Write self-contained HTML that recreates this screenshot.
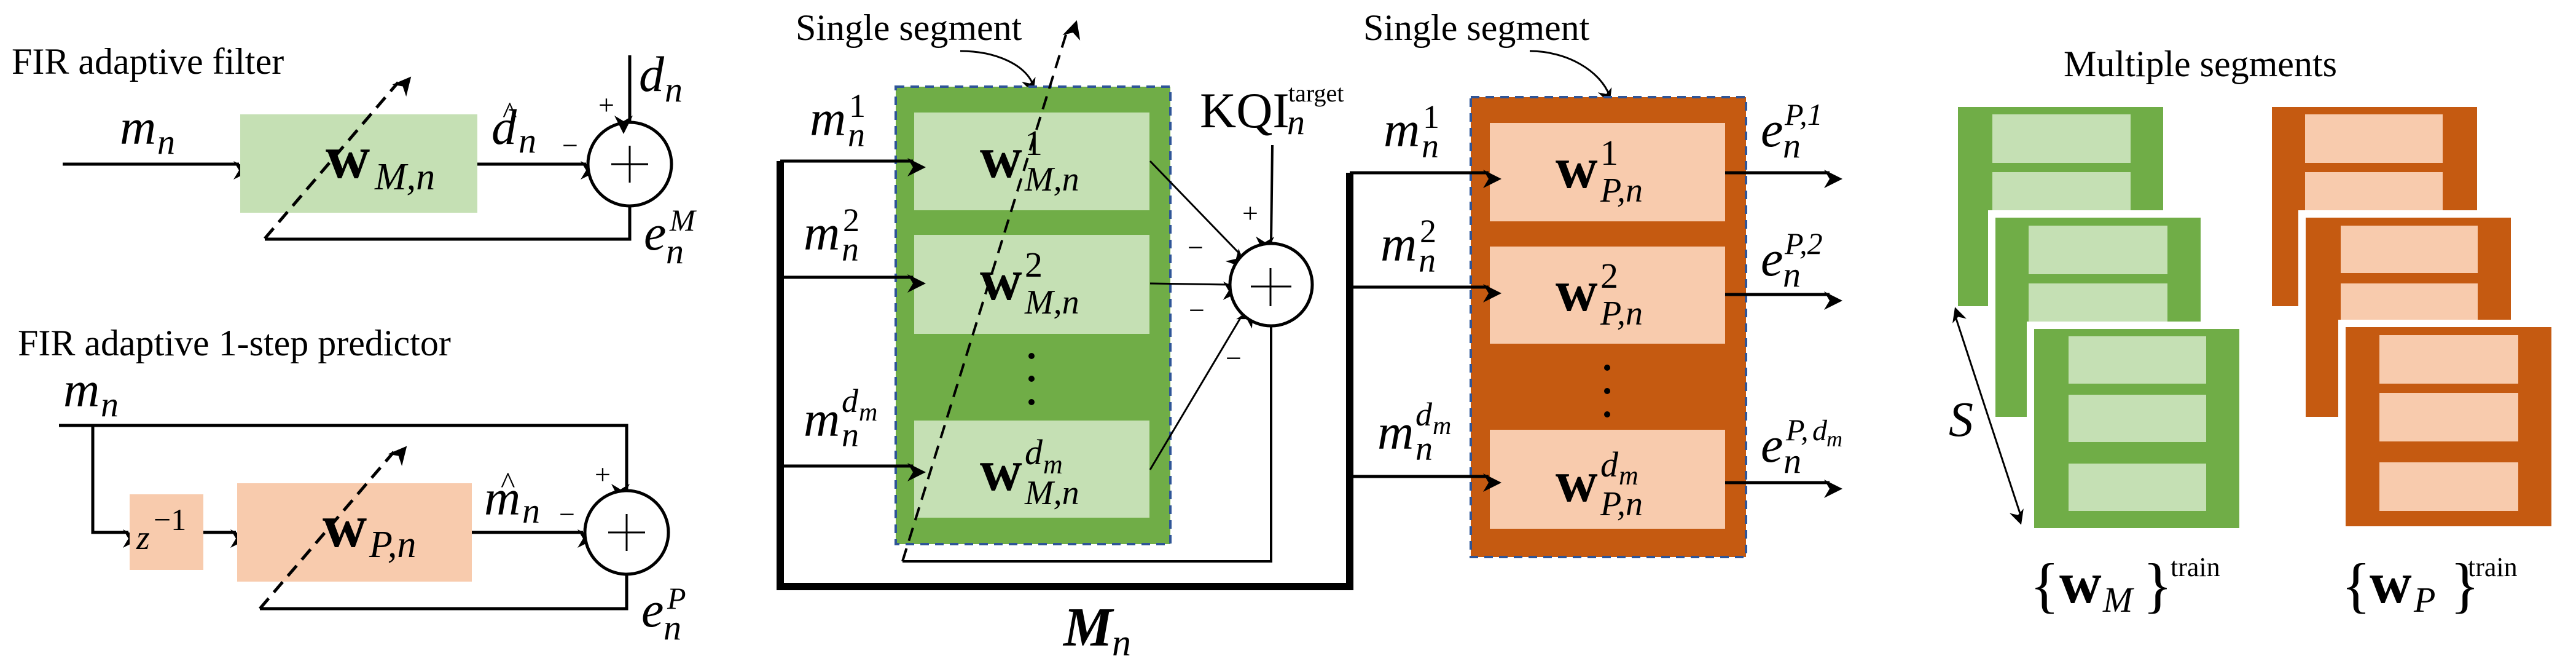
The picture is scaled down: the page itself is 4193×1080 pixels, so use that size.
<!DOCTYPE html>
<html><head><meta charset="utf-8"><style>
html,body{margin:0;padding:0;background:#fff;}
svg{display:block;font-family:"Liberation Serif","DejaVu Serif",serif;}
svg text{font-family:"Liberation Serif","DejaVu Serif",serif;fill:#000;}
.t{font-size:60px;}
.i{font-style:italic;}
.b{font-weight:bold;}
</style></head><body>
<svg width="4193" height="1080" viewBox="0 0 4193 1080" xmlns="http://www.w3.org/2000/svg" font-family="Liberation Serif, DejaVu Serif, serif">
<defs>
<marker id="a" markerWidth="10" markerHeight="10" refX="9" refY="5" orient="auto" markerUnits="userSpaceOnUse" viewBox="0 0 10 10" style="overflow:visible">
<path d="M0,0 L10,5 L0,10 L3,5 Z" transform="scale(3)" fill="#000"/>
</marker>
<marker id="s" markerWidth="10" markerHeight="10" refX="9" refY="5" orient="auto" markerUnits="userSpaceOnUse" viewBox="0 0 10 10" style="overflow:visible">
<path d="M0,0 L10,5 L0,10 L3,5 Z" transform="translate(-3,-3) scale(2.4)" fill="#000"/>
</marker>
</defs>

<!-- ===== Top-left: FIR adaptive filter ===== -->
<text class="t" x="19" y="120">FIR adaptive filter</text>
<text class="i" x="195" y="234" font-size="82">m</text><text class="i" x="256" y="250" font-size="58">n</text>
<line x1="102" y1="267" x2="389" y2="267" stroke="#000" stroke-width="5" marker-end="url(#a)"/>
<rect x="391" y="186" width="386" height="160" fill="#c5e0b4"/>
<text class="b" x="530" y="289" font-size="100">w</text><text class="i" x="610" y="308" font-size="62">M,n</text>
<line x1="431" y1="388" x2="648" y2="134" stroke="#000" stroke-width="5" stroke-dasharray="22,13" marker-end="url(#a)"/>
<text class="i" x="800" y="234" font-size="82">d</text><text x="818" y="200" font-size="50">^</text><text class="i" x="844" y="248" font-size="58">n</text>
<line x1="777" y1="267" x2="954" y2="267" stroke="#000" stroke-width="5" marker-end="url(#a)"/>
<circle cx="1025" cy="267" r="68" fill="#fff" stroke="#000" stroke-width="5"/>
<path d="M995,267 H1055 M1025,237 V297" stroke="#000" stroke-width="3"/>
<line x1="1025" y1="90" x2="1025" y2="197" stroke="#000" stroke-width="5" marker-end="url(#a)"/>
<text class="i" x="1040" y="148" font-size="82">d</text><text class="i" x="1082" y="165" font-size="58">n</text>
<text x="974" y="186" font-size="46">+</text>
<text x="915" y="252" font-size="46">−</text>
<polyline points="1025,335 1025,389 431,389" fill="none" stroke="#000" stroke-width="5"/>
<text class="i" x="1048" y="406" font-size="82">e</text><text class="i" x="1090" y="375" font-size="50">M</text><text class="i" x="1084" y="428" font-size="58">n</text>

<!-- ===== Bottom-left: 1-step predictor ===== -->
<text class="t" x="29" y="578">FIR adaptive 1-step predictor</text>
<text class="i" x="103" y="661" font-size="82">m</text><text class="i" x="164" y="677" font-size="58">n</text>
<polyline points="96,692 1020,692 1020,796" fill="none" stroke="#000" stroke-width="5" marker-end="url(#a)"/>
<polyline points="151,692 151,866 209,866" fill="none" stroke="#000" stroke-width="5" marker-end="url(#a)"/>
<rect x="211" y="804" width="120" height="123" fill="#f8cbad"/>
<text class="i" x="222" y="893" font-size="56">z</text><text x="250" y="862" font-size="50">−1</text>
<line x1="331" y1="866" x2="384" y2="866" stroke="#000" stroke-width="5" marker-end="url(#a)"/>
<rect x="386" y="786" width="382" height="160" fill="#f8cbad"/>
<text class="b" x="525" y="889" font-size="100">w</text><text class="i" x="601" y="906" font-size="62">P,n</text>
<line x1="423" y1="990" x2="641" y2="735" stroke="#000" stroke-width="5" stroke-dasharray="22,13" marker-end="url(#a)"/>
<text class="i" x="788" y="837" font-size="82">m</text><text x="815" y="802" font-size="50">^</text><text class="i" x="850" y="850" font-size="58">n</text>
<line x1="768" y1="866" x2="949" y2="866" stroke="#000" stroke-width="5" marker-end="url(#a)"/>
<circle cx="1020" cy="866" r="68" fill="#fff" stroke="#000" stroke-width="5"/>
<path d="M990,866 H1050 M1020,836 V896" stroke="#000" stroke-width="3"/>
<text x="968" y="787" font-size="46">+</text>
<text x="910" y="852" font-size="46">−</text>
<polyline points="1020,934 1020,990 423,990" fill="none" stroke="#000" stroke-width="5"/>
<text class="i" x="1044" y="1019" font-size="82">e</text><text class="i" x="1086" y="990" font-size="50">P</text><text class="i" x="1080" y="1040" font-size="58">n</text>

<!-- ===== Middle: green segment ===== -->
<text class="t" x="1295" y="65">Single segment</text>
<path d="M1563,83 C1620,83 1670,105 1682,139" fill="none" stroke="#000" stroke-width="3" marker-end="url(#s)"/>
<rect x="1458" y="141" width="447" height="744" fill="#70ad47" stroke="#2f5597" stroke-width="4" stroke-dasharray="14,10"/>
<rect x="1488" y="183" width="383" height="159" fill="#c5e0b4"/>
<rect x="1488" y="382" width="383" height="161" fill="#c5e0b4"/>
<rect x="1488" y="684" width="383" height="158" fill="#c5e0b4"/>
<circle cx="1679" cy="579" r="5"/><circle cx="1679" cy="616" r="5"/><circle cx="1679" cy="654" r="5"/>
<text class="b" x="1595" y="288" font-size="95">w</text><text x="1668" y="252" font-size="58">1</text><text class="i" x="1668" y="310" font-size="56">M,n</text>
<text class="b" x="1595" y="487" font-size="95">w</text><text x="1668" y="450" font-size="58">2</text><text class="i" x="1668" y="510" font-size="56">M,n</text>
<text class="b" x="1595" y="797" font-size="95">w</text><text class="i" x="1668" y="755" font-size="58">d</text><text class="i" x="1698" y="770" font-size="44">m</text><text class="i" x="1668" y="820" font-size="56">M,n</text>

<text class="i" x="1318" y="220" font-size="82">m</text><text x="1382" y="190" font-size="54">1</text><text class="i" x="1380" y="238" font-size="56">n</text>
<text class="i" x="1308" y="406" font-size="82">m</text><text x="1372" y="376" font-size="54">2</text><text class="i" x="1370" y="424" font-size="56">n</text>
<text class="i" x="1308" y="709" font-size="82">m</text><text class="i" x="1370" y="670" font-size="54">d</text><text class="i" x="1398" y="684" font-size="42">m</text><text class="i" x="1370" y="726" font-size="56">n</text>

<!-- thick bus -->
<polyline points="1270,262 1270,954 2197,954 2197,281" fill="none" stroke="#000" stroke-width="12"/>
<line x1="1270" y1="262" x2="1486" y2="262" stroke="#000" stroke-width="5" marker-end="url(#a)"/>
<line x1="1270" y1="451" x2="1486" y2="451" stroke="#000" stroke-width="5" marker-end="url(#a)"/>
<line x1="1270" y1="758" x2="1486" y2="758" stroke="#000" stroke-width="5" marker-end="url(#a)"/>
<line x1="1469" y1="913" x2="1737" y2="50" stroke="#000" stroke-width="4" stroke-dasharray="22,13" marker-end="url(#a)"/>

<!-- summation -->
<line x1="1872" y1="262" x2="2019" y2="414" stroke="#000" stroke-width="3" marker-end="url(#a)"/>
<line x1="1872" y1="461" x2="2000" y2="463" stroke="#000" stroke-width="3" marker-end="url(#a)"/>
<line x1="1872" y1="764" x2="2021" y2="514" stroke="#000" stroke-width="3" marker-end="url(#a)"/>
<line x1="2071" y1="236" x2="2069" y2="394" stroke="#000" stroke-width="4" marker-end="url(#a)"/>
<circle cx="2069" cy="463" r="67" fill="#fff" stroke="#000" stroke-width="5"/>
<path d="M2036,466 H2102 M2068,436 V498" stroke="#000" stroke-width="3"/>
<text x="1953" y="207" font-size="82">KQI</text><text x="2097" y="165" font-size="40">target</text><text class="i" x="2095" y="218" font-size="58">n</text>
<text x="2022" y="362" font-size="46">+</text>
<text x="1933" y="418" font-size="46">−</text>
<text x="1935" y="520" font-size="46">−</text>
<text x="1995" y="598" font-size="46">−</text>
<polyline points="2069,530 2069,913 1469,913" fill="none" stroke="#000" stroke-width="4"/>
<text class="i b" x="1731" y="1050" font-size="90">M</text><text class="i" x="1810" y="1066" font-size="62">n</text>

<!-- ===== orange segment ===== -->
<text class="t" x="2219" y="65">Single segment</text>
<path d="M2490,83 C2550,83 2605,115 2620,156" fill="none" stroke="#000" stroke-width="3" marker-end="url(#s)"/>
<rect x="2394" y="158" width="448" height="748" fill="#c55a11" stroke="#2f5597" stroke-width="4" stroke-dasharray="14,10"/>
<rect x="2425" y="200" width="383" height="160" fill="#f8cbad"/>
<rect x="2425" y="401" width="383" height="158" fill="#f8cbad"/>
<rect x="2425" y="699" width="383" height="161" fill="#f8cbad"/>
<circle cx="2616" cy="598" r="5"/><circle cx="2616" cy="636" r="5"/><circle cx="2616" cy="674" r="5"/>
<text class="b" x="2532" y="305" font-size="95">w</text><text x="2605" y="268" font-size="58">1</text><text class="i" x="2605" y="328" font-size="56">P,n</text>
<text class="b" x="2532" y="505" font-size="95">w</text><text x="2605" y="468" font-size="58">2</text><text class="i" x="2605" y="528" font-size="56">P,n</text>
<text class="b" x="2532" y="815" font-size="95">w</text><text class="i" x="2605" y="775" font-size="58">d</text><text class="i" x="2635" y="788" font-size="44">m</text><text class="i" x="2605" y="838" font-size="56">P,n</text>

<text class="i" x="2252" y="238" font-size="82">m</text><text x="2316" y="208" font-size="54">1</text><text class="i" x="2314" y="256" font-size="56">n</text>
<text class="i" x="2247" y="424" font-size="82">m</text><text x="2311" y="394" font-size="54">2</text><text class="i" x="2309" y="442" font-size="56">n</text>
<text class="i" x="2242" y="730" font-size="82">m</text><text class="i" x="2304" y="692" font-size="54">d</text><text class="i" x="2332" y="706" font-size="42">m</text><text class="i" x="2304" y="748" font-size="56">n</text>
<line x1="2197" y1="281" x2="2423" y2="281" stroke="#000" stroke-width="5" marker-end="url(#a)"/>
<line x1="2197" y1="467" x2="2423" y2="467" stroke="#000" stroke-width="5" marker-end="url(#a)"/>
<line x1="2197" y1="775" x2="2423" y2="775" stroke="#000" stroke-width="5" marker-end="url(#a)"/>
<line x1="2808" y1="281" x2="2978" y2="281" stroke="#000" stroke-width="5" marker-end="url(#a)"/>
<line x1="2808" y1="479" x2="2978" y2="479" stroke="#000" stroke-width="5" marker-end="url(#a)"/>
<line x1="2808" y1="785" x2="2978" y2="785" stroke="#000" stroke-width="5" marker-end="url(#a)"/>
<text class="i" x="2866" y="238" font-size="82">e</text><text class="i" x="2905" y="203" font-size="50">P,1</text><text class="i" x="2902" y="256" font-size="58">n</text>
<text class="i" x="2866" y="448" font-size="82">e</text><text class="i" x="2905" y="413" font-size="50">P,2</text><text class="i" x="2902" y="466" font-size="58">n</text>
<text class="i" x="2866" y="751" font-size="82">e</text><text class="i" x="2907" y="716" font-size="50">P,</text><text class="i" x="2950" y="716" font-size="48">d</text><text class="i" x="2973" y="726" font-size="36">m</text><text class="i" x="2903" y="769" font-size="58">n</text>

<!-- ===== Multiple segments ===== -->
<text class="t" x="3359" y="124">Multiple segments</text>
<rect x="3187" y="174" width="334" height="324" fill="#70ad47"/>
<rect x="3243" y="186" width="225" height="79" fill="#c5e0b4"/>
<rect x="3243" y="280" width="225" height="79" fill="#c5e0b4"/>
<rect x="3236" y="342" width="358" height="348" fill="#fff"/>
<rect x="3248" y="354" width="334" height="324" fill="#70ad47"/>
<rect x="3302" y="367" width="226" height="79" fill="#c5e0b4"/>
<rect x="3302" y="461" width="226" height="79" fill="#c5e0b4"/>
<rect x="3299" y="523" width="358" height="348" fill="#fff"/>
<rect x="3311" y="535" width="334" height="324" fill="#70ad47"/>
<rect x="3367" y="547" width="224" height="77" fill="#c5e0b4"/>
<rect x="3367" y="642" width="224" height="77" fill="#c5e0b4"/>
<rect x="3367" y="754" width="224" height="77" fill="#c5e0b4"/>

<rect x="3698" y="174" width="334" height="324" fill="#c55a11"/>
<rect x="3752" y="186" width="224" height="79" fill="#f8cbad"/>
<rect x="3752" y="280" width="224" height="79" fill="#f8cbad"/>
<rect x="3741" y="342" width="358" height="348" fill="#fff"/>
<rect x="3753" y="354" width="334" height="324" fill="#c55a11"/>
<rect x="3810" y="367" width="223" height="77" fill="#f8cbad"/>
<rect x="3810" y="461" width="223" height="79" fill="#f8cbad"/>
<rect x="3806" y="520" width="359" height="348" fill="#fff"/>
<rect x="3818" y="532" width="335" height="324" fill="#c55a11"/>
<rect x="3873" y="545" width="226" height="79" fill="#f8cbad"/>
<rect x="3873" y="639" width="226" height="79" fill="#f8cbad"/>
<rect x="3873" y="752" width="226" height="79" fill="#f8cbad"/>

<line x1="3236" y1="677" x2="3182" y2="512" stroke="#000" stroke-width="3" marker-end="url(#s)"/>
<line x1="3236" y1="677" x2="3290" y2="841" stroke="#000" stroke-width="3" marker-end="url(#s)"/>
<text class="i" x="3172" y="709" font-size="80">S</text>

<text x="3304" y="985" font-size="100">{</text><text class="b" x="3352" y="980" font-size="95">w</text><text class="i" x="3423" y="995" font-size="58">M</text><text x="3488" y="985" font-size="100">}</text><text x="3533" y="937" font-size="44">train</text>
<text x="3811" y="985" font-size="100">{</text><text class="b" x="3857" y="980" font-size="95">w</text><text class="i" x="3929" y="995" font-size="58">P</text><text x="3988" y="985" font-size="100">}</text><text x="4017" y="937" font-size="44">train</text>
</svg>
</body></html>
